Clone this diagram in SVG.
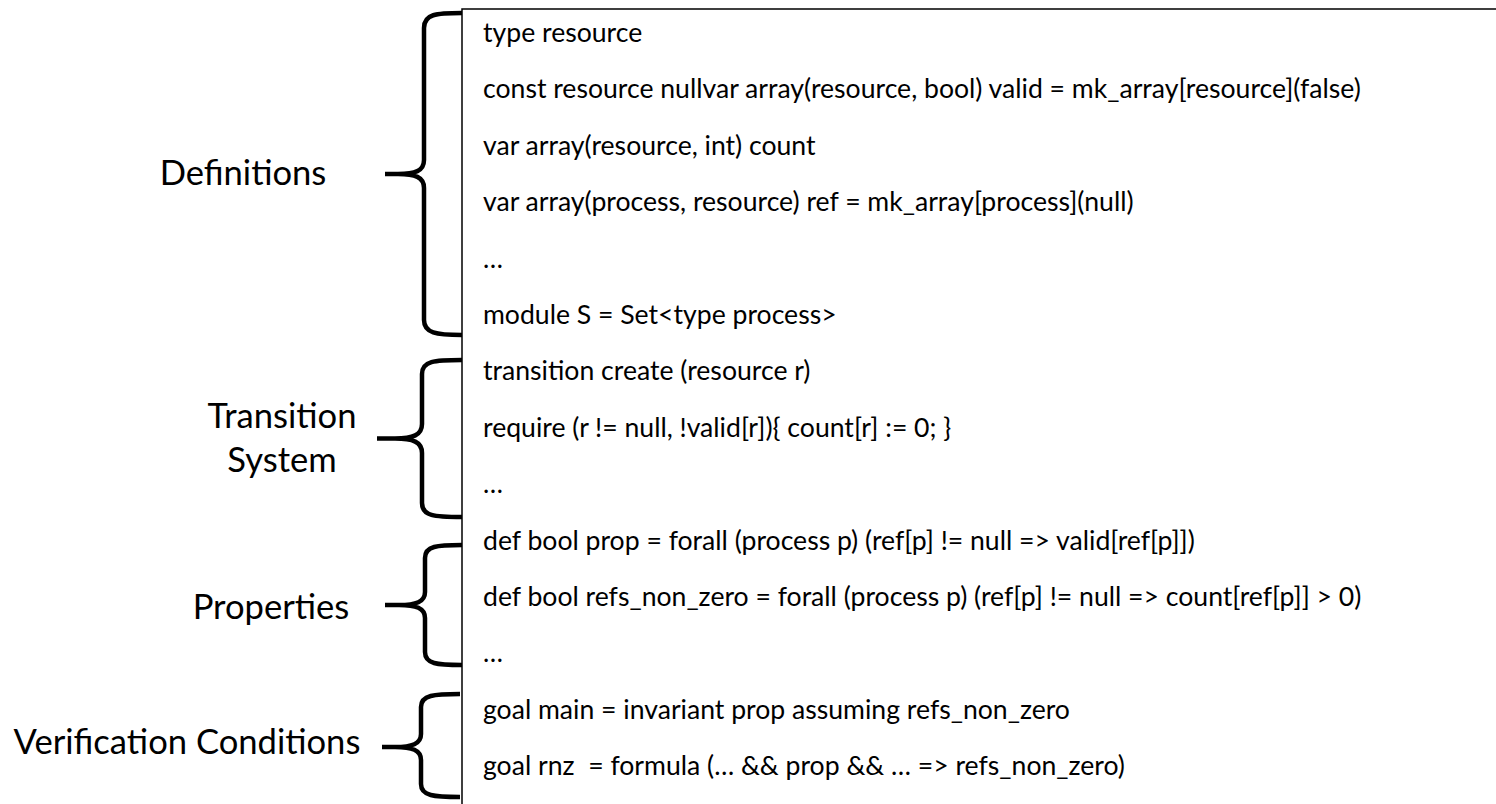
<svg xmlns="http://www.w3.org/2000/svg" width="1496" height="804" viewBox="0 0 1496 804">
  <style>
    .code { font-family: Lato, "Liberation Sans", sans-serif; font-size: 26.6px; fill: #000; }
    .label { font-family: Lato, "Liberation Sans", sans-serif; font-size: 34.6px; fill: #000; text-anchor: middle; }
    .brace { fill: none; stroke: #000; stroke-width: 4.5; stroke-linecap: butt; stroke-linejoin: round; }
    .frame { fill: none; stroke: #000; stroke-width: 1.5; }
  </style>
  <rect width="1496" height="804" fill="#fff"/>

  <!-- listing frame: open on the right and bottom -->
  <g id="listing">
    <path class="frame" d="M1500,9 L462,9 L462,806"/>
    <text class="code" x="483" y="42">type resource</text>
    <text class="code" x="483" y="98.4">const resource nullvar array(resource, bool) valid = mk_array[resource](false)</text>
    <text class="code" x="483" y="154.8">var array(resource, int) count</text>
    <text class="code" x="483" y="211.2">var array(process, resource) ref = mk_array[process](null)</text>
    <text class="code" x="483" y="267.6">…</text>
    <text class="code" x="483" y="324">module S = Set&lt;type process&gt;</text>
    <text class="code" x="483" y="380.4">transition create (resource r)</text>
    <text class="code" x="483" y="436.8">require (r != null, !valid[r]){ count[r] := 0; }</text>
    <text class="code" x="483" y="493.2">…</text>
    <text class="code" x="483" y="549.6">def bool prop = forall (process p) (ref[p] != null =&gt; valid[ref[p]])</text>
    <text class="code" x="483" y="606">def bool refs_non_zero = forall (process p) (ref[p] != null =&gt; count[ref[p]] &gt; 0)</text>
    <text class="code" x="483" y="662.4">…</text>
    <text class="code" x="483" y="718.8">goal main = invariant prop assuming refs_non_zero</text>
    <text class="code" x="483" y="775.2" xml:space="preserve">goal rnz  = formula (… &amp;&amp; prop &amp;&amp; … =&gt; refs_non_zero)</text>
  </g>

  <!-- section labels -->
  <g id="definitions">
    <text class="label" x="243" y="185">Definitions</text>
  </g>
  <g id="transition-system">
    <text class="label" x="282" y="428">Transition</text>
    <text class="label" x="282" y="472">System</text>
  </g>
  <g id="properties">
    <text class="label" x="271" y="619">Properties</text>
  </g>
  <g id="verification-conditions">
    <text class="label" x="187" y="754">Verification Conditions</text>
  </g>

  <!-- curly braces joining each label to its block of lines -->
  <g id="connectors">
    <path class="brace" d="M462,13 C436,13 424,14 424,28 L424,160 C424,171 415,174 398,174 L385,174 M385,174 L398,174 C415,174 424,177 424,188 L424,320 C424,333 436,335 462,335"/>
    <path class="brace" d="M462,360 C434,360 422,361 422,374 L422,424 C422,435 413,438.5 395,438.5 L377,438.5 M377,438.5 L395,438.5 C413,438.5 422,442 422,453 L422,503 C422,516 434,517 462,517"/>
    <path class="brace" d="M462,545 C437,545 425,546 425,558 L425,592 C425,602 416,605 399,605 L385,605 M385,605 L399,605 C416,605 425,608 425,618 L425,652 C425,664 437,665 462,665"/>
    <path class="brace" d="M460,694 C434,694 421,695 421,707 L421,734 C421,744 412,747 395,747 L382,747 M382,747 L395,747 C412,747 421,750 421,760 L421,784 C421,796 434,797 460,797"/>
  </g>
</svg>
